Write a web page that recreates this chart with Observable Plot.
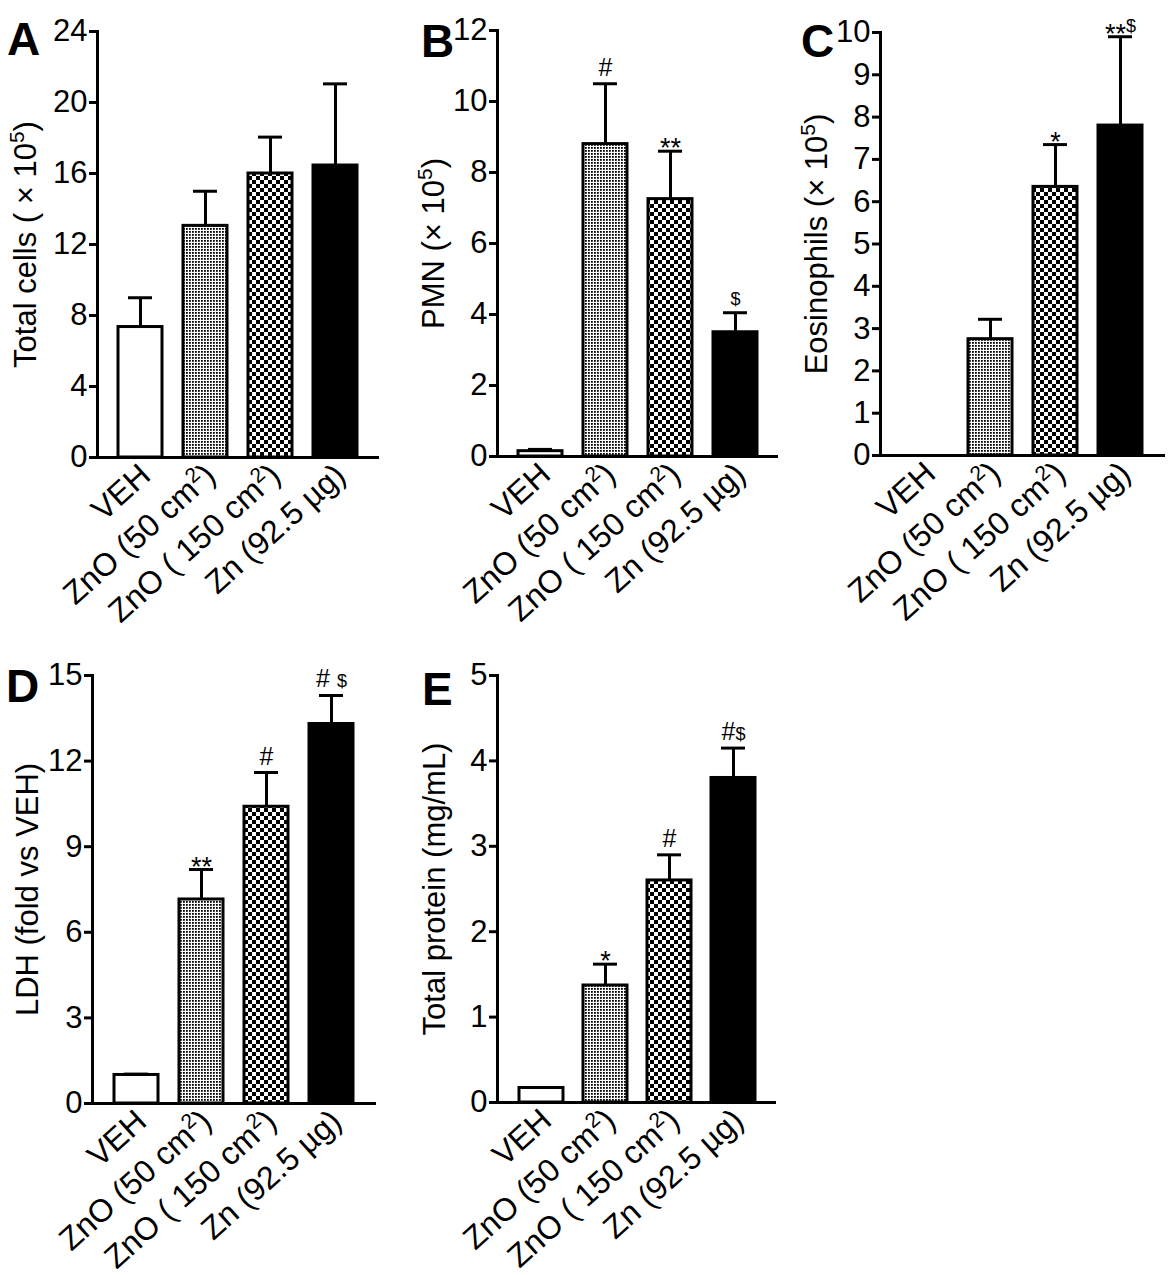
<!DOCTYPE html>
<html>
<head>
<meta charset="utf-8">
<script src="https://cdn.jsdelivr.net/npm/d3@7"></script>
<script src="https://cdn.jsdelivr.net/npm/@observablehq/plot@0.6"></script>
<style>
  html, body { margin: 0; padding: 0; background: white; }
  #page { position: relative; width: 1170px; height: 1275px; background: white; overflow: hidden; font-family: "Liberation Sans", Arial, sans-serif; }
  .panel { position: absolute; }
  .letter { position: absolute; font-weight: bold; font-size: 46px; line-height: 46px; color: black; font-family: "Liberation Sans", Arial, sans-serif; }
</style>
</head>
<body>
<svg width="0" height="0" style="position:absolute">
  <defs>
    <pattern id="dots" width="3" height="3" patternUnits="userSpaceOnUse">
      <rect width="3" height="3" fill="white"></rect>
      <rect width="1.8" height="1.8" fill="black"></rect>
    </pattern>
    <pattern id="checks" width="8" height="8" patternUnits="userSpaceOnUse">
      <rect width="8" height="8" fill="white"></rect>
      <rect width="4" height="4" fill="black"></rect>
      <rect x="4" y="4" width="4" height="4" fill="black"></rect>
    </pattern>
  </defs>
</svg>
<div id="page"></div>
<script>
// ---- data ----
const groups = ["VEH", "ZnO (50 cm²)", "ZnO ( 150 cm²)", "Zn (92.5 µg)"];

const totalCellsMean = [7.35, 13.05, 16.0, 16.45];
const totalCellsErr  = [1.65, 1.95, 2.05, 4.6];
const totalCellsSig  = ["", "", "", ""];
const totalCellsTicks = [0, 4, 8, 12, 16, 20, 24];

const pmnMean = [0.15, 8.8, 7.25, 3.5];
const pmnErr  = [0.05, 1.7, 1.35, 0.55];
const pmnSig  = ["", "#", "**", "$"];
const pmnTicks = [0, 2, 4, 6, 8, 10, 12];

const eosMean = [0, 2.75, 6.35, 7.8];
const eosErr  = [0, 0.47, 1.0, 2.1];
const eosSig  = ["", "", "*", "**$"];
const eosTicks = [0, 1, 2, 3, 4, 5, 6, 7, 8, 9, 10];

const ldhMean = [1.0, 7.15, 10.4, 13.3];
const ldhErr  = [0.03, 1.05, 1.2, 1.0];
const ldhSig  = ["", "**", "#", "# $"];
const ldhTicks = [0, 3, 6, 9, 12, 15];

const proteinMean = [0.17, 1.37, 2.6, 3.8];
const proteinErr  = [0, 0.25, 0.3, 0.35];
const proteinSig  = ["", "*", "#", "#$"];
const proteinTicks = [0, 1, 2, 3, 4, 5];

const panelLetters = ["A", "B", "C", "D", "E"];
const yLabels = ["Total cells ( × 10⁵)", "PMN (× 10⁵)", "Eosinophils (× 10⁵)", "LDH (fold vs VEH)", "Total protein (mg/mL)"];

// ---- layout ----
const layout = [
  {left: 0,   top: 0,   w: 390, h: 640, mL: 97,  mR: 11, mT: 31, mB: 183, lo: 84, lx: 7,   ly: 16},
  {left: 390, top: 0,   w: 390, h: 640, mL: 107, mR: 2,  mT: 30, mB: 184, lo: 76, lx: 421, ly: 18},
  {left: 780, top: 0,   w: 390, h: 640, mL: 100, mR: 5,  mT: 32, mB: 185, lo: 76, lx: 801, ly: 18},
  {left: 0,   top: 640, w: 390, h: 635, mL: 92,  mR: 14, mT: 35, mB: 172, lo: 77, lx: 6,   ly: 663},
  {left: 390, top: 640, w: 390, h: 635, mL: 107, mR: 4,  mT: 35, mB: 173, lo: 75, lx: 422, ly: 666}
];

const series = [
  [totalCellsMean, totalCellsErr, totalCellsSig, totalCellsTicks],
  [pmnMean, pmnErr, pmnSig, pmnTicks],
  [eosMean, eosErr, eosSig, eosTicks],
  [ldhMean, ldhErr, ldhSig, ldhTicks],
  [proteinMean, proteinErr, proteinSig, proteinTicks]
];

const fills = ["white", "url(#dots)", "url(#checks)", "black"];
const FONT = "'Liberation Sans', Arial, sans-serif";
const SVGNS = "http://www.w3.org/2000/svg";

function superscriptify(svg) {
  const map = {"⁵": "5", "²": "2"};
  d3.select(svg).selectAll("text").each(function () {
    const t = this.textContent;
    if (!/[⁵²]/.test(t) || this.querySelector("tspan")) return;
    const parts = t.split(/([⁵²])/);
    this.textContent = "";
    let raised = false;
    for (const p of parts) {
      if (!p) continue;
      const ts = document.createElementNS(SVGNS, "tspan");
      if (map[p]) {
        ts.textContent = map[p];
        ts.setAttribute("dy", "-12");
        ts.setAttribute("font-size", "21");
        raised = true;
      } else {
        ts.textContent = p;
        if (raised) { ts.setAttribute("dy", "12"); raised = false; }
      }
      this.appendChild(ts);
    }
  });
}

function smallDollar(svg) {
  d3.select(svg).selectAll("g[aria-label='text'] text").each(function () {
    const t = this.textContent;
    if (!t.includes("$")) return;
    const afterStar = t.startsWith("*");
    const parts = t.split(/(\$)/);
    this.textContent = "";
    for (const p of parts) {
      if (!p) continue;
      const ts = document.createElementNS(SVGNS, "tspan");
      ts.textContent = p;
      if (p === "$") {
        ts.setAttribute("font-size", "18");
        if (afterStar) ts.setAttribute("dy", "-11");
      }
      this.appendChild(ts);
    }
  });
}

const page = document.getElementById("page");

series.forEach(([mean, err, sig, ticks], i) => {
  const L = layout[i];
  const data = groups.map((g, j) => ({g, mean: mean[j], err: err[j], sig: sig[j]}));
  const withErr = data.filter(d => d.err > 0);
  const starSig = data.filter(d => d.sig && d.sig.startsWith("*"));
  const otherSig = data.filter(d => d.sig && !d.sig.startsWith("*"));
  const svg = Plot.plot({
    width: L.w,
    height: L.h,
    marginLeft: L.mL,
    marginRight: L.mR,
    marginTop: L.mT,
    marginBottom: L.mB,
    style: {background: "white", color: "black", fontFamily: FONT, fontSize: "31px", overflow: "visible"},
    x: {domain: groups, padding: 0.32},
    y: {domain: [0, ticks[ticks.length - 1]]},
    color: {domain: groups, range: fills},
    marks: [
      Plot.barY(data, {x: "g", y: "mean", fill: "g", stroke: "black", strokeWidth: 3}),
      Plot.ruleX(withErr, {x: "g", y1: "mean", y2: d => d.mean + d.err, stroke: "black", strokeWidth: 3}),
      Plot.tickY(withErr, {x: "g", y: d => d.mean + d.err, stroke: "black", strokeWidth: 3, insetLeft: 10, insetRight: 10}),
      Plot.text(otherSig, {x: "g", y: d => d.mean + d.err, text: "sig", fontSize: 25, lineAnchor: "bottom", dy: -8, fill: "black"}),
      Plot.text(starSig, {x: "g", y: d => d.mean + d.err, text: "sig", fontSize: 27, lineAnchor: "bottom", dy: 6, fill: "black"}),
      Plot.ruleY([0], {stroke: "black", strokeWidth: 3}),
      Plot.frame({anchor: "left", stroke: "black", strokeWidth: 3}),
      Plot.axisY({ticks, tickSize: 8, tickPadding: 2, strokeWidth: 3, fontSize: 31, tickFormat: "d",
        label: yLabels[i], labelAnchor: "center", labelOffset: L.lo, labelArrow: "none"}),
      Plot.axisX({tickRotate: -42, tickSize: 0, tickPadding: 13, dx: 5, fontSize: 32, label: null})
    ]
  });
  superscriptify(svg);
  smallDollar(svg);
  const div = document.createElement("div");
  div.className = "panel";
  div.style.left = L.left + "px";
  div.style.top = L.top + "px";
  div.appendChild(svg);
  page.appendChild(div);

  const letter = document.createElement("div");
  letter.className = "letter";
  letter.style.left = L.lx + "px";
  letter.style.top = L.ly + "px";
  letter.textContent = panelLetters[i];
  page.appendChild(letter);
});
</script>
</body>
</html>
